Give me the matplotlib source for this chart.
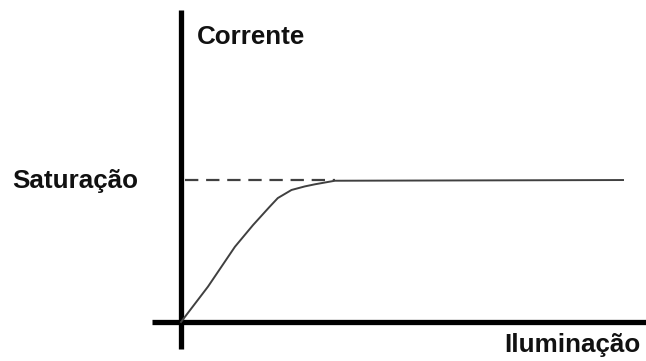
import numpy as np
import matplotlib.pyplot as plt

# photocurrent vs illumination (arbitrary units, saturation = 1)
iluminacao = [0.0, 0.061, 0.122, 0.163, 0.200, 0.219, 0.250, 0.280, 0.303, 0.348, 1.0]
corrente = [0.0, 0.249, 0.530, 0.683, 0.810, 0.873, 0.930, 0.955, 0.970, 0.995, 1.0]
saturacao = 1.0

plt.rcParams['font.family'] = ['Liberation Sans', 'DejaVu Sans']

fig = plt.figure(figsize=(6.46, 3.61), dpi=100)
ax = fig.add_axes([0, 0, 1, 1])
ax.set_xlim(-0.4095, 1.052)
ax.set_ylim(-0.2746, 2.268)
ax.axis('off')

# axes drawn by hand, crossing at the origin
ax.plot([0, 0], [-0.19, 2.197], color='black', lw=3.8, solid_capstyle='butt')
ax.plot([-0.0656, 1.06], [0, 0], color='black', lw=3.8, solid_capstyle='butt')

# saturation level guide
ax.plot([0.008, 0.348], [saturacao, saturacao], color='#404040', lw=1.6,
        dashes=(6, 3.5))

ax.plot(iluminacao, corrente, color='#404040', lw=1.4)

txt = dict(fontsize=18.7, fontweight='bold', color='#111111', va='baseline')
ax.text(0.036, 1.958, 'Corrente', ha='left', **txt)
ax.text(-0.382, 0.944, 'Saturação', ha='left', **txt)
ax.text(1.0405, -0.211, 'Iluminação', ha='right', **txt)

plt.savefig('out.png', dpi=100)
